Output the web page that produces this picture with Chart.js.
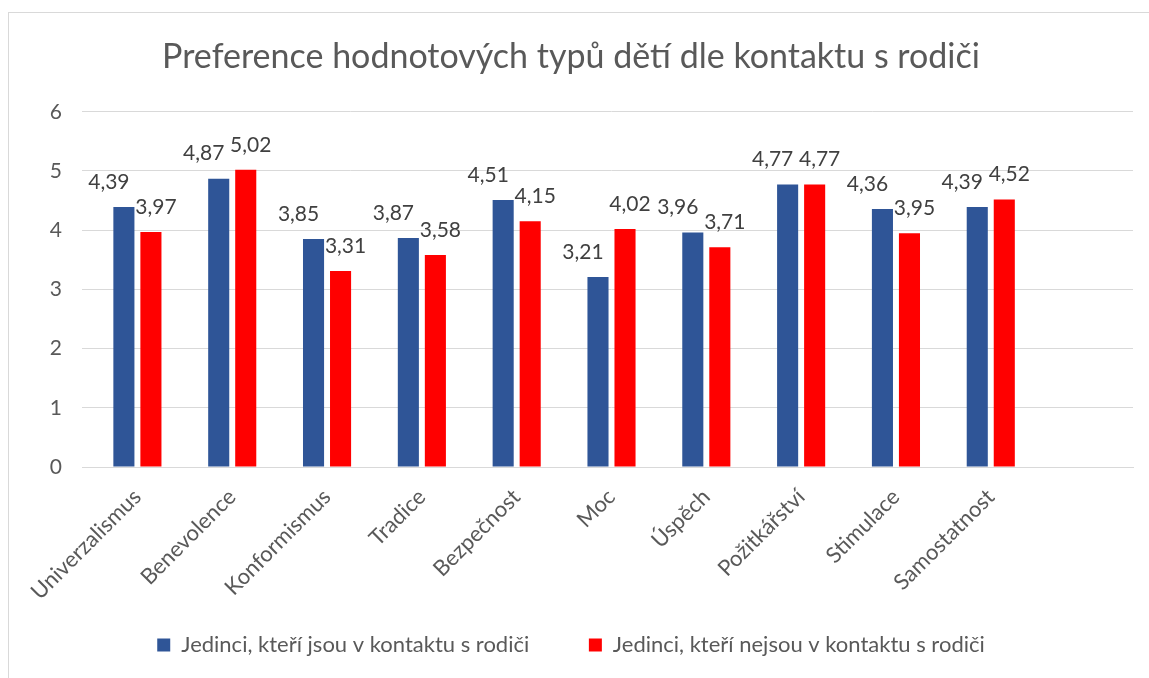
<!DOCTYPE html>
<html>
<head>
<meta charset="utf-8">
<script src="https://cdn.jsdelivr.net/npm/chart.js@4.4.1/dist/chart.umd.min.js"></script>
<style>
    html, body { margin: 0; padding: 0; background: #fff; }
    #frame {
        position: absolute; left: 8px; top: 12px;
        width: 1200px; height: 700px;
        border: 1px solid #d9d9d9;
    }
    #wrap { position: absolute; left: 0; top: 0; width: 1149px; height: 678px; }
</style>
</head>
<body>
<div id="frame"></div>
<div id="wrap"><canvas id="barChart" width="1149" height="678"></canvas></div>
<script>
    const categories = ['Univerzalismus', 'Benevolence', 'Konformismus', 'Tradice', 'Bezpečnost',
        'Moc', 'Úspěch', 'Požitkářství', 'Stimulace', 'Samostatnost'];
    const inContact = [4.39, 4.87, 3.85, 3.87, 4.51, 3.21, 3.96, 4.77, 4.36, 4.39];
    const noContact = [3.97, 5.02, 3.31, 3.58, 4.15, 4.02, 3.71, 4.77, 3.95, 4.52];
    const yTicks = [0, 1, 2, 3, 4, 5, 6];

    const font = 'Lato, "Open Sans", sans-serif';

    // value labels above the bars, comma as decimal separator
    const valueLabels = {
        id: 'valueLabels',
        afterDatasetsDraw(chart) {
            const ctx = chart.ctx;
            ctx.save();
            ctx.font = '21px ' + font;
            ctx.fillStyle = '#404040';
            ctx.textAlign = 'center';
            ctx.textBaseline = 'middle';
            chart.data.datasets.forEach((ds, di) => {
                const meta = chart.getDatasetMeta(di);
                const shift = di === 0 ? -15 : 5;
                meta.data.forEach((bar, i) => {
                    const v = ds.data[i];
                    if (v == null) return;
                    ctx.fillText(v.toFixed(2).replace('.', ','), bar.x + shift, bar.y - 25);
                });
            });
            ctx.restore();
        }
    };

    new Chart(document.getElementById('barChart'), {
        type: 'bar',
        data: {
            labels: [...categories, ''], // empty slot on the right, as in the original
            datasets: [{
                label: 'Jedinci, kteří jsou v kontaktu s rodiči',
                data: inContact,
                backgroundColor: '#2F5597',
                categoryPercentage: 0.57,
                barPercentage: 0.78
            }, {
                label: 'Jedinci, kteří nejsou v kontaktu s rodiči',
                data: noContact,
                backgroundColor: '#FF0000',
                categoryPercentage: 0.57,
                barPercentage: 0.78
            }]
        },
        options: {
            responsive: false,
            animation: false,
            layout: { padding: { left: 9, right: 16, top: 0, bottom: 12 } },
            plugins: {
                title: {
                    display: true,
                    text: 'Preference hodnotových typů dětí dle kontaktu s rodiči',
                    color: '#595959',
                    font: { family: font, size: 34, weight: 'normal' },
                    padding: { top: 37, bottom: 34 }
                },
                legend: {
                    position: 'bottom',
                    labels: {
                        color: '#595959',
                        font: { family: font, size: 22 },
                        boxWidth: 13,
                        boxHeight: 13,
                        padding: 10,
                        // wide gap between the two entries, like the original legend
                        generateLabels: (chart) => {
                            const items = Chart.defaults.plugins.legend.labels.generateLabels(chart);
                            items[0].text += '\u2002'.repeat(4) + ' ';
                            return items;
                        }
                    }
                },
                tooltip: { enabled: false }
            },
            scales: {
                x: {
                    grid: { display: false },
                    border: { display: true, color: '#d9d9d9' },
                    ticks: {
                        color: '#595959',
                        font: { family: font, size: 22 },
                        minRotation: 45,
                        maxRotation: 45,
                        autoSkip: false,
                        padding: 9
                    },
                    afterFit: (scale) => { scale.height = 157; }
                },
                y: {
                    min: 0,
                    max: 6,
                    afterBuildTicks: (scale) => { scale.ticks = yTicks.map(v => ({ value: v })); },
                    grid: { color: '#d9d9d9' },
                    border: { display: false },
                    ticks: {
                        color: '#595959',
                        font: { family: font, size: 21 },
                        padding: 20
                    },
                    afterFit: (scale) => { scale.width = 81; }
                }
            }
        },
        plugins: [valueLabels]
    });
</script>
</body>
</html>
